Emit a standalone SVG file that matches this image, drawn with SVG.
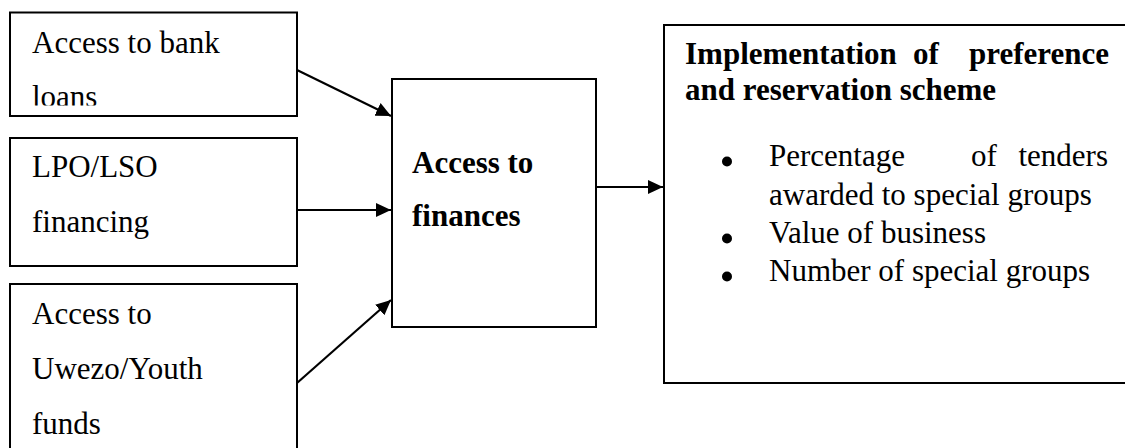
<svg xmlns="http://www.w3.org/2000/svg" width="1125" height="448" viewBox="0 0 1125 448">
<style>
.box{fill:#fff;stroke:#000;stroke-width:2}
.t{font-family:"Liberation Serif","Times New Roman",serif;font-size:31px;fill:#000}
.b{font-weight:bold}
.c{stroke:#000;stroke-width:2.2;fill:none}
</style>
<defs>
<marker id="ah" markerUnits="userSpaceOnUse" markerWidth="16" markerHeight="16" viewBox="0 0 16 16" refX="15" refY="8" orient="auto">
<path d="M0,1 L15,8 L0,15 Z" fill="#000"/>
</marker>
<clipPath id="clip1"><rect x="10" y="12" width="288" height="93.5"/></clipPath>
</defs>
<g id="node-bank-loans">
<rect class="box" x="10" y="12.5" width="287" height="103.5"/>
<g clip-path="url(#clip1)">
<text class="t" x="32" y="53">Access to bank</text>
<text class="t" x="32" y="107">loans</text>
</g>
</g>
<g id="node-lpo">
<rect class="box" x="10" y="138" width="287" height="128"/>
<text class="t" x="32" y="177">LPO/LSO</text>
<text class="t" x="32" y="232">financing</text>
</g>
<g id="node-uwezo">
<rect class="box" x="10" y="284" width="287" height="180"/>
<text class="t" x="32" y="324">Access to</text>
<text class="t" x="32" y="379">Uwezo/Youth</text>
<text class="t" x="32" y="434">funds</text>
</g>
<g id="node-finances">
<rect class="box" x="392" y="79" width="204" height="248"/>
<text class="t b" x="412" y="173">Access to</text>
<text class="t b" x="412" y="226">finances</text>
</g>
<g id="node-implementation">
<rect class="box" x="664" y="25" width="480" height="358"/>
<text class="t b" y="64"><tspan x="685">Implementation</tspan><tspan x="913">of</tspan><tspan x="1109" text-anchor="end">preference</tspan></text>
<text class="t b" x="685" y="100">and reservation scheme</text>
<circle cx="727" cy="161.5" r="5" fill="#000"/>
<text class="t" y="166"><tspan x="769">Percentage</tspan><tspan x="971">of</tspan><tspan x="1108" text-anchor="end">tenders</tspan></text>
<text class="t" x="769" y="204.5">awarded to special groups</text>
<circle cx="727" cy="238.5" r="5" fill="#000"/>
<text class="t" x="769" y="243">Value of business</text>
<circle cx="727" cy="276.5" r="5" fill="#000"/>
<text class="t" x="769" y="281">Number of special groups</text>
</g>
<g id="connectors">
<line class="c" x1="297" y1="70" x2="391" y2="116" marker-end="url(#ah)"/>
<line class="c" x1="297" y1="210" x2="391" y2="210" marker-end="url(#ah)"/>
<line class="c" x1="297" y1="383" x2="391" y2="300" marker-end="url(#ah)"/>
<line class="c" x1="596" y1="187" x2="663" y2="187" marker-end="url(#ah)"/>
</g>
</svg>
